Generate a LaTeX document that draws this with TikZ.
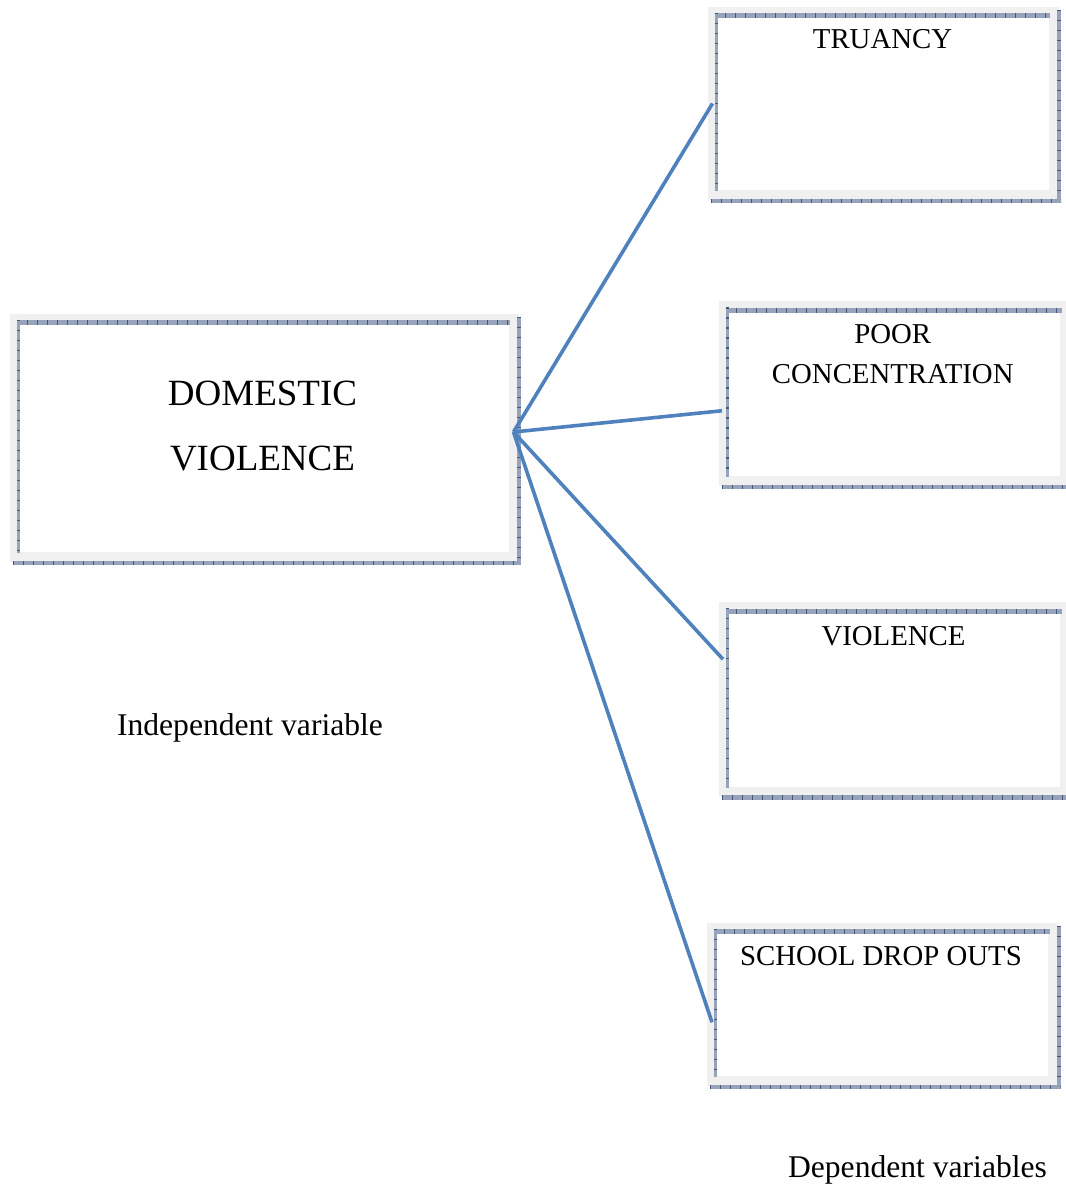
\documentclass[tikz,border=0pt]{standalone}
\usepackage{fontspec}
\setmainfont{Liberation Serif}
\usetikzlibrary{calc}
\definecolor{framegray}{RGB}{240,240,240}
\definecolor{rulebase}{RGB}{150,163,186}
\definecolor{ruletick}{RGB}{70,88,120}
\definecolor{linkblue}{RGB}{79,129,189}

\begin{document}
\begin{tikzpicture}[x=0.5pt,y=-0.5pt,
    box/.style={draw=framegray, line width=5pt, fill=white, inner sep=0pt, outer sep=0pt},
    rule/.style={draw=rulebase, postaction={draw=ruletick, dash pattern=on 0.6pt off 4.4pt}},
    lbl/.style={font=\fontsize{14.4}{20}\selectfont, align=center, anchor=base},
    note/.style={font=\fontsize{15.8}{20}\selectfont, anchor=base},
    link/.style={draw=linkblue, line width=1.8pt}]
    \useasboundingbox (0,0) rectangle (1065,1186);
    % boxes
    \node[box, minimum width=249.25pt, minimum height=119pt] (dom) at (264.25,438) {};
    \node[box, minimum width=170.5pt, minimum height=91.5pt] (tru) at (883,103.5) {};
    \node[box, minimum width=170.75pt, minimum height=87.25pt] (poor) at (894.25,393.75) {};
    \node[box, minimum width=170.75pt, minimum height=92.25pt] (viol) at (894.25,699.25) {};
    \node[box, minimum width=170.5pt, minimum height=76.75pt] (drop) at (882.5,1004.25) {};
    % hatched rules and shadow
    \foreach \b in {dom,tru,poor,viol,drop}{
        \draw[rule, line width=2.5pt] ($(\b.north west)+(2,4)$) -- ($(\b.north east)+(-3.5,4)$);
        \draw[rule, line width=1.5pt] ($(\b.north west)+(3.5,1)$) -- ($(\b.south west)+(3.5,-4)$);
        \draw[rule, line width=2pt] ($(\b.north east)+(5.5,-2)$) -- ($(\b.south east)+(5.5,8)$);
        \draw[rule, line width=2.25pt] ($(\b.south west)+(-2,6)$) -- ($(\b.south east)+(7,6)$);
    }
    % texts (base = last line)
    \node[lbl, font=\fontsize{18.5}{32.5}\selectfont] (domtxt) at ($(dom.north)+(-1.75,152)$) {DOMESTIC\\VIOLENCE};
    \node[lbl] (trutxt) at ($(tru.north)+(-0.5,37)$) {TRUANCY};
    \node[lbl] (poortxt) at ($(poor.north)+(-1.5,77.5)$) {POOR\\CONCENTRATION};
    \node[lbl] (violtxt) at ($(viol.north)+(-0.75,38)$) {VIOLENCE};
    \node[lbl] (droptxt) at ($(drop.north)+(-1.5,37.5)$) {SCHOOL DROP OUTS};
    \node[note] (indep) at (250,735) {Independent variable};
    \node[note] (dep) at (917.5,1177) {Dependent variables};
    % connectors
    \coordinate (hub) at ($(dom.east)+(0,-6)$);
    \coordinate (poorend) at ($(poor.west)+(-1.5,17)$);
    \coordinate (violend) at ($(viol.west)+(-0.5,-40)$);
    \coordinate (dropend) at ($(drop.west)+(0,18)$);
    \foreach \t in {tru.west,poorend,violend,dropend}
        \draw[link] (hub) -- (\t);
\end{tikzpicture}
\end{document}
